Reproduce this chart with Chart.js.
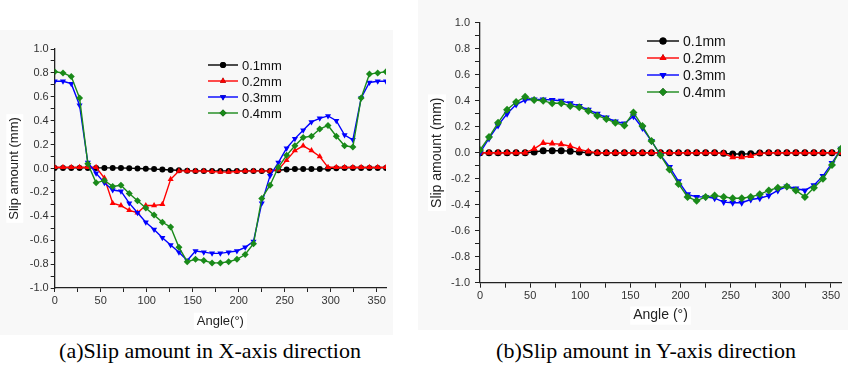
<!DOCTYPE html>
<html>
<head>
<meta charset="utf-8">
<script src="https://cdn.jsdelivr.net/npm/chart.js@4.4.1/dist/chart.umd.min.js"></script>
<style>
    body { margin: 0; background: #fff; width: 848px; height: 367px; position: relative; overflow: hidden; }
    .painel { position: absolute; background: #f8f8f8; }
    canvas { position: absolute; }
    .legenda { position: absolute; font-family: "Liberation Serif", "Times New Roman", serif; font-size: 22px; color: #000; white-space: nowrap; transform: translateX(-50%); }
</style>
</head>
<body>
<div class="painel" style="left:0; top:30px; width:393px; height:305px;"></div>
<div class="painel" style="left:418px; top:0; width:430px; height:330px;"></div>
<canvas id="graficoX" width="400" height="335" style="left:0; top:0;"></canvas>
<canvas id="graficoY" width="428" height="335" style="left:420px; top:0;"></canvas>
<div class="legenda" style="left:210px; top:338px;">(a)Slip amount in X-axis direction</div>
<div class="legenda" style="left:646px; top:338px;">(b)Slip amount in Y-axis direction</div>

<script>
// angulos (graus), passo de 9
const angulos = [0, 9, 18, 27, 36, 45, 54, 63, 72, 81, 90, 99, 108, 117, 126, 135, 144, 153, 162, 171, 180,
    189, 198, 207, 216, 225, 234, 243, 252, 261, 270, 279, 288, 297, 306, 315, 324, 333, 342, 351, 360];

const nomesSeries = ['0.1mm', '0.2mm', '0.3mm', '0.4mm'];

// (a) direcao X
const x01 = [0.005, 0.005, 0.005, 0.005, 0.005, 0.005, 0.005, 0.005, 0.004, 0.003, 0.0, -0.002, -0.005, -0.008, -0.012, -0.015, -0.018, -0.02, -0.02, -0.02, -0.02,
    -0.02, -0.02, -0.02, -0.02, -0.02, -0.02, -0.015, -0.008, -0.005, -0.005, -0.005, -0.005, -0.002, 0.003, 0.005, 0.005, 0.005, 0.005, 0.005, 0.005];
const x02 = [0.01, 0.01, 0.01, 0.01, 0.01, 0.01, -0.08, -0.29, -0.31, -0.35, -0.37, -0.31, -0.31, -0.30, -0.09, -0.02, -0.02, -0.02, -0.02, -0.025, -0.03,
    -0.03, -0.025, -0.02, -0.02, -0.02, -0.02, -0.01, 0.07, 0.15, 0.19, 0.15, 0.10, 0.01, 0.01, 0.01, 0.01, 0.01, 0.01, 0.01, 0.01];
const x03 = [0.73, 0.73, 0.71, 0.53, 0.05, -0.04, -0.12, -0.18, -0.19, -0.29, -0.37, -0.45, -0.51, -0.58, -0.64, -0.70, -0.77, -0.69, -0.70, -0.71, -0.71,
    -0.70, -0.69, -0.66, -0.61, -0.29, -0.06, 0.05, 0.17, 0.25, 0.32, 0.39, 0.42, 0.44, 0.40, 0.28, 0.24, 0.59, 0.72, 0.73, 0.73];
const x04 = [0.81, 0.80, 0.77, 0.59, 0.04, -0.12, -0.10, -0.15, -0.14, -0.21, -0.27, -0.33, -0.39, -0.45, -0.49, -0.66, -0.78, -0.76, -0.77, -0.79, -0.79,
    -0.78, -0.76, -0.72, -0.63, -0.25, -0.14, 0.01, 0.11, 0.19, 0.26, 0.27, 0.33, 0.36, 0.27, 0.19, 0.18, 0.59, 0.79, 0.80, 0.81];

// (b) direcao Y
const y01 = [0, 0, 0, 0, 0, 0, 0.005, 0.015, 0.015, 0.015, 0.012, 0.005, 0, 0, 0, 0, 0, 0, 0, 0, 0,
    0, 0, 0, 0, 0, 0, -0.005, -0.01, -0.01, -0.008, -0.003, 0, 0, 0, 0, 0, 0, 0, 0, 0];
const y02 = [0, 0, 0, 0, 0, 0, 0.03, 0.075, 0.07, 0.065, 0.05, 0.025, 0.01, 0, 0, 0, 0, 0, 0, 0, 0,
    0, 0, 0, 0, 0, 0, -0.005, -0.035, -0.035, -0.025, -0.005, 0, 0, 0, 0, 0, 0, 0, 0, 0];
const y03 = [0.0, 0.11, 0.21, 0.30, 0.37, 0.405, 0.41, 0.41, 0.405, 0.40, 0.38, 0.36, 0.33, 0.30, 0.27, 0.24, 0.225, 0.28, 0.19, 0.09, -0.02,
    -0.11, -0.22, -0.32, -0.34, -0.34, -0.35, -0.38, -0.385, -0.385, -0.36, -0.35, -0.33, -0.29, -0.26, -0.275, -0.29, -0.25, -0.18, -0.08, 0.03];
const y04 = [0.02, 0.12, 0.23, 0.33, 0.39, 0.43, 0.405, 0.40, 0.38, 0.38, 0.36, 0.35, 0.32, 0.285, 0.26, 0.23, 0.21, 0.31, 0.205, 0.09, -0.02,
    -0.13, -0.24, -0.34, -0.37, -0.34, -0.33, -0.34, -0.35, -0.35, -0.34, -0.32, -0.29, -0.27, -0.26, -0.29, -0.34, -0.27, -0.20, -0.095, 0.03];

const cores = ['#000000', '#ff0000', '#0000ff', '#1a8a1a'];
const estilos = ['circle', 'triangle', 'triangle', 'rectRot'];
const rotacoes = [0, 0, 180, 0];
const fonteEixo = 'Arial, "Liberation Sans", sans-serif';

function montarDatasets(series, raio) {
    return series.map((vals, i) => ({
        label: nomesSeries[i],
        data: angulos.map((a, k) => ({ x: a, y: vals[k] })),
        borderColor: cores[i],
        backgroundColor: cores[i],
        borderWidth: 1.4,
        pointStyle: estilos[i],
        pointRotation: rotacoes[i],
        pointRadius: i === 0 ? raio - 0.5 : raio,
        pointBorderWidth: 0,
        tension: 0,
        order: 4 - i
    }));
}

// fundo branco atras dos titulos dos eixos (como no original)
const fundoTitulos = {
    id: 'fundoTitulos',
    beforeDraw(chart) {
        const ctx = chart.ctx;
        const ca = chart.chartArea;
        ctx.save();
        ctx.fillStyle = '#ffffff';
        ['x', 'y'].forEach(k => {
            const s = chart.scales[k];
            const t = s.options.title;
            ctx.font = t.font.size + 'px ' + fonteEixo;
            const w = ctx.measureText(t.text).width + 6;
            const h = t.font.size * 1.3;
            if (k === 'y') {
                const cx = s.left + t.padding.top + t.font.size * 0.6;
                ctx.fillRect(cx - h / 2, (ca.top + ca.bottom) / 2 - w / 2, h, w);
            } else {
                const cy = s.bottom - t.padding.bottom - t.font.size * 0.6;
                ctx.fillRect((ca.left + ca.right) / 2 - w / 2, cy - h / 2, w, h);
            }
        });
        ctx.restore();
    }
};

// legenda desenhada dentro da area do grafico
const legendaInterna = {
    id: 'legendaInterna',
    afterDraw(chart, args, opts) {
        const ctx = chart.ctx;
        ctx.save();
        ctx.font = opts.tamanho + 'px ' + fonteEixo;
        ctx.textBaseline = 'middle';
        chart.data.datasets.forEach((ds, i) => {
            const y = opts.y + i * opts.passo;
            const x0 = opts.x, x1 = opts.x + opts.linha;
            ctx.strokeStyle = ds.borderColor;
            ctx.lineWidth = 1.4;
            ctx.beginPath();
            ctx.moveTo(x0, y);
            ctx.lineTo(x1, y);
            ctx.stroke();
            Chart.helpers.drawPoint(ctx, {
                pointStyle: ds.pointStyle,
                rotation: ds.pointRotation,
                radius: ds.pointRadius,
                borderWidth: 0
            }, (x0 + x1) / 2, y);
            ctx.fillStyle = ds.backgroundColor;
            ctx.fill();
            ctx.fillStyle = '#111';
            ctx.fillText(ds.label, x1 + 4, y + 1);
        });
        ctx.restore();
    }
};

function criarGrafico(id, series, cfg) {
    const ctx = document.getElementById(id).getContext('2d');
    return new Chart(ctx, {
        type: 'line',
        data: { datasets: montarDatasets(series, cfg.raio) },
        options: {
            responsive: false,
            devicePixelRatio: 1,
            animation: false,
            layout: { padding: cfg.padding },
            plugins: {
                legend: { display: false },
                tooltip: { enabled: false },
                legendaInterna: cfg.legenda
            },
            scales: {
                x: {
                    type: 'linear',
                    min: 0,
                    max: 360,
                    border: { color: '#222', width: 1.3 },
                    grid: { drawOnChartArea: false, tickLength: cfg.tickX, tickColor: '#222' },
                    ticks: {
                        stepSize: 25,
                        includeBounds: false,
                        maxRotation: 0,
                        autoSkip: false,
                        padding: 2,
                        color: '#333',
                        font: { family: fonteEixo, size: 11 },
                        callback: v => (v % 50 === 0 ? v : '')
                    },
                    title: {
                        display: true,
                        text: cfg.tituloX,
                        color: '#222',
                        font: { family: fonteEixo, size: cfg.fonteTitulo },
                        padding: { top: 0, bottom: cfg.padTituloX }
                    },
                    afterFit: s => { s.height = cfg.alturaX; }
                },
                y: {
                    min: -1,
                    max: 1,
                    border: { color: '#222', width: 1.3 },
                    grid: { drawOnChartArea: false, tickLength: cfg.tickY, tickColor: '#222' },
                    ticks: {
                        stepSize: 0.1,
                        autoSkip: false,
                        padding: cfg.padTickY,
                        color: '#333',
                        font: { family: fonteEixo, size: 11 },
                        callback: v => (Math.round(v * 10) % 2 === 0 ? (Math.round(v * 10) / 10).toFixed(1) : '')
                    },
                    title: {
                        display: true,
                        text: 'Slip amount (mm)',
                        color: '#222',
                        font: { family: fonteEixo, size: cfg.fonteTitulo },
                        padding: { top: cfg.padTituloY, bottom: 0 }
                    },
                    afterFit: s => { s.width = cfg.larguraY; }
                }
            }
        },
        plugins: [fundoTitulos, legendaInterna]
    });
}

criarGrafico('graficoX', [x01, x02, x03, x04], {
    raio: 3.5,
    padding: { left: 0, top: 49, right: 14, bottom: 0 },
    larguraY: 54.7,
    alturaX: 47,
    tickX: 4, tickY: 4, padTickY: 2,
    fonteTitulo: 13,
    padTituloX: 6, padTituloY: 7,
    tituloX: 'Angle(°)',
    legenda: { x: 208, y: 65, passo: 16, linha: 30, tamanho: 13 }
});

criarGrafico('graficoY', [y01, y02, y03, y04], {
    raio: 4,
    padding: { left: 0, top: 22.7, right: 7, bottom: 0 },
    larguraY: 60,
    alturaX: 52.3,
    tickX: 5, tickY: 5, padTickY: 5,
    fonteTitulo: 14,
    padTituloX: 11, padTituloY: 8.6,
    tituloX: 'Angle (°)',
    legenda: { x: 227, y: 41, passo: 17, linha: 32, tamanho: 14 }
});
</script>
</body>
</html>
